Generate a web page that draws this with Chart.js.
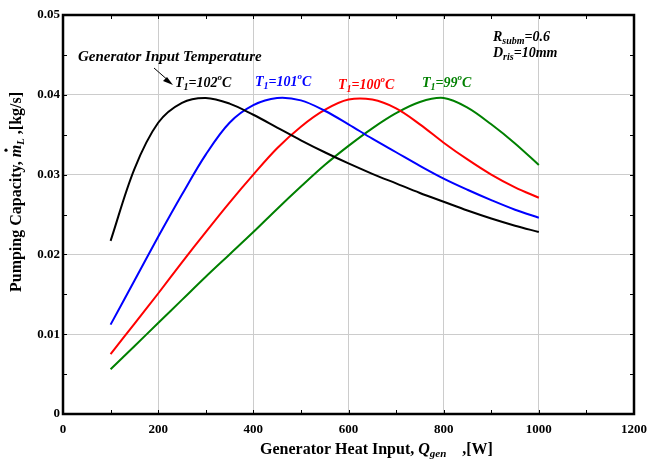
<!DOCTYPE html>
<html>
<head>
<meta charset="utf-8">
<script src="https://cdn.jsdelivr.net/npm/chart.js@4.4.0/dist/chart.umd.min.js"></script>
<style>
  html, body { margin: 0; padding: 0; background: #fff; }
  #wrap { width: 649px; height: 463px; }
</style>
</head>
<body>
<div id="wrap"><canvas id="pumpChart" width="649" height="463"></canvas></div>
<script>
// Generator heat input [W]
const qGen = [100, 150, 200, 250, 300, 350, 400, 450, 500, 550, 600, 650, 700, 750, 800, 850, 900, 950, 1000];

// Pumping capacity [kg/s] for each generator input temperature
const t102 = [0.0217, 0.0307, 0.0365, 0.0390, 0.0396, 0.0389, 0.0375, 0.0359, 0.0343, 0.0328, 0.0314, 0.0301, 0.0289, 0.0277, 0.0266, 0.0255, 0.0245, 0.0236, 0.0228];
const t101 = [0.0112, 0.0167, 0.0222, 0.0275, 0.0325, 0.0365, 0.0387, 0.0396, 0.0393, 0.0380, 0.0363, 0.0345, 0.0328, 0.0311, 0.0295, 0.0281, 0.0268, 0.0256, 0.0246];
const t100 = [0.0075, 0.0113, 0.0151, 0.0190, 0.0228, 0.0265, 0.0300, 0.0333, 0.0360, 0.0381, 0.0394, 0.0394, 0.0383, 0.0363, 0.0340, 0.0319, 0.0300, 0.0284, 0.0271];
const t99 = [0.0056, 0.0085, 0.0114, 0.0143, 0.0172, 0.0200, 0.0228, 0.0257, 0.0285, 0.0312, 0.0336, 0.0358, 0.0377, 0.0391, 0.0396, 0.0384, 0.0363, 0.0339, 0.0312];

const xTicks = [0, 200, 400, 600, 800, 1000, 1200];
const yTicks = [0, 0.01, 0.02, 0.03, 0.04, 0.05];

const serif = '"Liberation Serif", "Times New Roman", serif';

function toPoints(ys) {
  return qGen.map((q, i) => ({ x: q, y: ys[i] }));
}

function line(label, ys, color) {
  return {
    label: label,
    data: toPoints(ys),
    borderColor: color,
    borderWidth: 2,
    pointRadius: 0,
    tension: 0.35,
    fill: false,
  };
}

// draw a run of text pieces, each with its own font and vertical shift
function drawParts(ctx, parts, x, y, color) {
  ctx.fillStyle = color;
  ctx.textBaseline = "middle";
  ctx.textAlign = "left";
  let cx = x;
  parts.forEach((p) => {
    ctx.font = p.font;
    ctx.fillText(p.t, cx, y + (p.dy || 0));
    cx += ctx.measureText(p.t).width;
  });
  return cx;
}

function partsWidth(ctx, parts) {
  let w = 0;
  parts.forEach((p) => {
    ctx.font = p.font;
    w += ctx.measureText(p.t).width;
  });
  return w;
}

function tempLabel(t) {
  return [
    { t: "T", font: "bold italic 14px " + serif },
    { t: "1", font: "bold italic 10px " + serif, dy: 4 },
    { t: "=" + t, font: "bold italic 14px " + serif },
    { t: "o", font: "bold italic 9px " + serif, dy: -5 },
    { t: "C", font: "bold italic 14px " + serif },
  ];
}

const decorPlugin = {
  id: "decor",
  afterDatasetsDraw(chart) {
    const ctx = chart.ctx;
    const a = chart.chartArea;
    const xs = chart.scales.x;
    const ys = chart.scales.y;
    ctx.save();

    // inward minor ticks
    ctx.strokeStyle = "#000";
    ctx.lineWidth = 1;
    for (let v = 100; v < 1200; v += 100) {
      const px = Math.round(xs.getPixelForValue(v)) + 0.5;
      ctx.beginPath();
      ctx.moveTo(px, a.bottom);
      ctx.lineTo(px, a.bottom - 4);
      ctx.moveTo(px, a.top);
      ctx.lineTo(px, a.top + 4);
      ctx.stroke();
    }
    for (let v = 0.005; v < 0.05; v += 0.005) {
      const py = Math.round(ys.getPixelForValue(v)) + 0.5;
      ctx.beginPath();
      ctx.moveTo(a.left, py);
      ctx.lineTo(a.left + 4, py);
      ctx.moveTo(a.right, py);
      ctx.lineTo(a.right - 4, py);
      ctx.stroke();
    }

    // frame
    ctx.lineWidth = 2.5;
    ctx.strokeRect(a.left, a.top, a.right - a.left, a.bottom - a.top);

    // annotations
    ctx.font = "bold italic 15px " + serif;
    ctx.fillStyle = "#000";
    ctx.textBaseline = "middle";
    ctx.fillText("Generator Input Temperature", 78, 57);

    // arrow
    ctx.lineWidth = 1;
    ctx.beginPath();
    ctx.moveTo(154, 68);
    ctx.lineTo(170, 82);
    ctx.stroke();
    ctx.beginPath();
    ctx.moveTo(173, 85);
    ctx.lineTo(163, 81);
    ctx.lineTo(167, 77);
    ctx.closePath();
    ctx.fill();

    drawParts(ctx, tempLabel("102"), 175, 83, "#000");
    drawParts(ctx, tempLabel("101"), 255, 82, "#0000ff");
    drawParts(ctx, tempLabel("100"), 338, 85, "#ff0000");
    drawParts(ctx, tempLabel("99"), 422, 83, "#008000");

    drawParts(ctx, [
      { t: "R", font: "bold italic 14px " + serif },
      { t: "subm", font: "bold italic 10px " + serif, dy: 4 },
      { t: "=0.6", font: "bold italic 14px " + serif },
    ], 493, 37, "#000");
    drawParts(ctx, [
      { t: "D", font: "bold italic 14px " + serif },
      { t: "ris", font: "bold italic 10px " + serif, dy: 4 },
      { t: "=10mm", font: "bold italic 14px " + serif },
    ], 493, 53, "#000");

    // x axis title
    const xParts = [
      { t: "Generator Heat Input, ", font: "bold 16px " + serif },
      { t: "Q", font: "bold italic 16px " + serif },
      { t: "gen", font: "bold italic 11px " + serif, dy: 4 },
      { t: "    ,[W]", font: "bold 16px " + serif },
    ];
    drawParts(ctx, xParts, 260, 450, "#000");

    // y axis title (rotated)
    ctx.save();
    ctx.translate(17, 192);
    ctx.rotate(-Math.PI / 2);
    const yParts = [
      { t: "Pumping Capacity, ", font: "bold 16px " + serif },
      { t: "m", font: "bold italic 16px " + serif },
      { t: "L", font: "bold italic 11px " + serif, dy: 4 },
      { t: " ,[kg/s]", font: "bold 16px " + serif },
    ];
    const yw = partsWidth(ctx, yParts);
    const x0 = -yw / 2;
    ctx.font = "bold 16px " + serif;
    const mStart = x0 + ctx.measureText("Pumping Capacity, ").width;
    drawParts(ctx, yParts, x0, 0, "#000");
    ctx.font = "bold italic 16px " + serif;
    const mw = ctx.measureText("m").width;
    ctx.beginPath();
    ctx.arc(mStart + mw / 2 + 1, -11, 1.6, 0, Math.PI * 2);
    ctx.fill();
    ctx.restore();

    ctx.restore();
  },
};

const ctx = document.getElementById("pumpChart").getContext("2d");
new Chart(ctx, {
  type: "line",
  data: {
    datasets: [
      line("T1=102°C", t102, "#000000"),
      line("T1=101°C", t101, "#0000ff"),
      line("T1=100°C", t100, "#ff0000"),
      line("T1=99°C", t99, "#008000"),
    ],
  },
  options: {
    responsive: false,
    animation: false,
    layout: { padding: { top: 15, right: 15, left: 0, bottom: 0 } },
    plugins: {
      legend: { display: false },
      tooltip: { enabled: false },
    },
    scales: {
      x: {
        type: "linear",
        min: 0,
        max: 1200,
        afterBuildTicks: (s) => { s.ticks = xTicks.map((v) => ({ value: v })); },
        afterFit: (s) => { s.height = 49; s.paddingLeft = 0; s.paddingRight = 0; },
        grid: { color: "#cccccc", lineWidth: 1, drawTicks: false },
        border: { display: false },
        ticks: {
          padding: 8,
          color: "#000",
          font: { family: serif, size: 13, weight: "bold" },
          maxRotation: 0,
          callback: (v) => String(v),
        },
      },
      y: {
        min: 0,
        max: 0.05,
        afterBuildTicks: (s) => { s.ticks = yTicks.map((v) => ({ value: v })); },
        afterFit: (s) => { s.width = 63; s.paddingTop = 0; s.paddingBottom = 0; },
        grid: { color: "#cccccc", lineWidth: 1, drawTicks: false },
        border: { display: false },
        ticks: {
          padding: 3,
          color: "#000",
          font: { family: serif, size: 13, weight: "bold" },
          callback: (v) => (v === 0 ? "0" : v.toFixed(2)),
        },
      },
    },
  },
  plugins: [decorPlugin],
});
</script>
</body>
</html>
